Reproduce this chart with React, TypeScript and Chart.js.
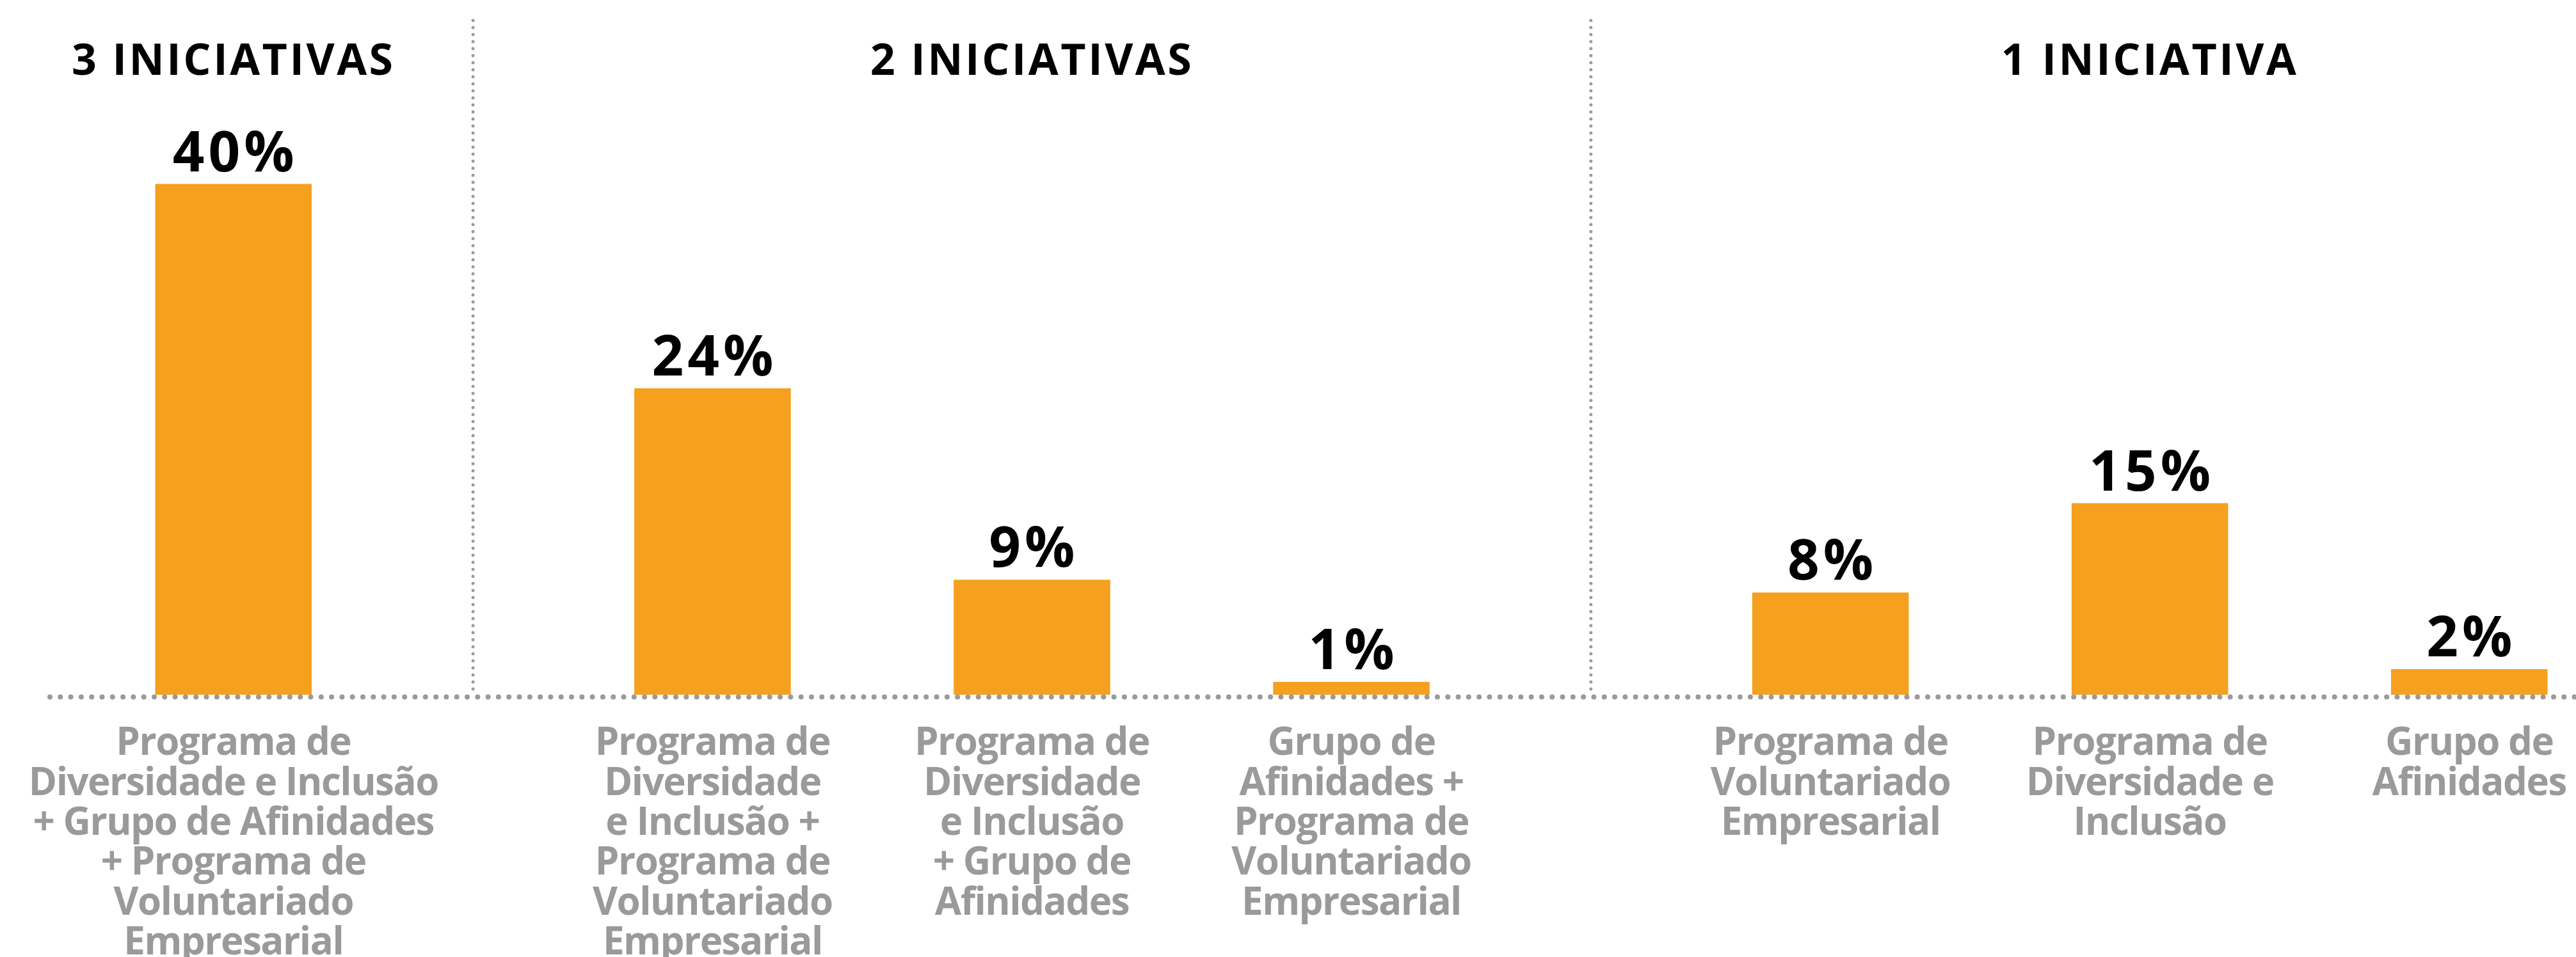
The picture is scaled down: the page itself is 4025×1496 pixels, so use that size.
import React, { useEffect, useRef } from "react";
import { Chart, registerables } from "chart.js";

Chart.register(...registerables);

const GROUP_TITLES = ["3 INICIATIVAS", "2 INICIATIVAS", "1 INICIATIVA"];
const BAR_GROUP = [0, 1, 1, 1, 2, 2, 2];
const BAR_VALUES = [40, 24, 9, 1, 8, 15, 2];
const BAR_LABELS: string[][] = [
  ["Programa de", "Diversidade e Inclusão", "+ Grupo de Afinidades", "+ Programa de", "Voluntariado", "Empresarial"],
  ["Programa de", "Diversidade", "e Inclusão +", "Programa de", "Voluntariado", "Empresarial"],
  ["Programa de", "Diversidade", "e Inclusão", "+ Grupo de", "Afinidades"],
  ["Grupo de", "Afinidades +", "Programa de", "Voluntariado", "Empresarial"],
  ["Programa de", "Voluntariado", "Empresarial"],
  ["Programa de", "Diversidade e", "Inclusão"],
  ["Grupo de", "Afinidades"],
];

const ORANGE = "#F5A01F";
const GRAY = "#9A9A9A";
const FONT = "'Open Sans', 'Noto Sans', sans-serif";

// Build category slots: one empty slot between bars of a group, two between groups
function buildSlots() {
  const labels: (string | string[])[] = [];
  const values: (number | null)[] = [];
  const barIndex: number[] = [];
  BAR_VALUES.forEach((v, i) => {
    if (i > 0) {
      const gap = BAR_GROUP[i] !== BAR_GROUP[i - 1] ? 2 : 1;
      for (let k = 0; k < gap; k++) {
        labels.push("");
        values.push(null);
      }
    }
    barIndex.push(labels.length);
    labels.push(BAR_LABELS[i]);
    values.push(v);
  });
  return { labels, values, barIndex };
}

export default function App() {
  const ref = useRef<HTMLCanvasElement | null>(null);

  useEffect(() => {
    document.body.style.margin = "0";
    document.body.style.overflow = "hidden";
    const { labels, values, barIndex } = buildSlots();

    const decor = {
      id: "decor",
      beforeDraw(chart: any) {
        (chart.ctx as any).letterSpacing = "-1.5px";
      },
      afterDatasetsDraw(chart: any) {
        const ctx = chart.ctx;
        const xs = chart.scales.x;
        const ys = chart.scales.y;
        const zeroY = ys.getPixelForValue(0);
        ctx.save();
        // baseline dotted
        ctx.strokeStyle = GRAY;
        ctx.lineCap = "round";
        ctx.lineWidth = 8;
        ctx.setLineDash([0, 16.3]);
        ctx.beginPath();
        ctx.moveTo(78, zeroY + 3.5);
        ctx.lineTo(chart.width + 10, zeroY + 3.5);
        ctx.stroke();
        // vertical separators between groups
        ctx.lineWidth = 5;
        ctx.setLineDash([0, 11]);
        for (let i = 1; i < BAR_VALUES.length; i++) {
          if (BAR_GROUP[i] !== BAR_GROUP[i - 1]) {
            const x = (xs.getPixelForValue(barIndex[i - 1]) + xs.getPixelForValue(barIndex[i])) / 2;
            ctx.beginPath();
            ctx.moveTo(x, 32);
            ctx.lineTo(x, zeroY + 2);
            ctx.stroke();
          }
        }
        ctx.setLineDash([]);
        // value labels
        const meta = chart.getDatasetMeta(0);
        ctx.fillStyle = "#000";
        ctx.font = `bold 87px ${FONT}`;
        ctx.letterSpacing = "6px";
        ctx.textAlign = "center";
        ctx.textBaseline = "alphabetic";
        meta.data.forEach((el: any, i: number) => {
          const v = values[i];
          if (v == null) return;
          ctx.fillText(`${v}%`, el.x + 3, el.y - 20);
        });
        // group titles
        ctx.font = `bold 68px ${FONT}`;
        ctx.letterSpacing = "3.5px";
        GROUP_TITLES.forEach((t, g) => {
          const idx = barIndex.filter((_, i) => BAR_GROUP[i] === g);
          const x = (xs.getPixelForValue(idx[0]) + xs.getPixelForValue(idx[idx.length - 1])) / 2;
          ctx.fillText(t, x, 117);
        });
        ctx.restore();
      },
    };

    const chart = new Chart(ref.current!, {
      type: "bar",
      data: {
        labels,
        datasets: [
          {
            data: values,
            backgroundColor: ORANGE,
            borderWidth: 0,
            barPercentage: 0.98,
            categoryPercentage: 1,
          },
        ],
      },
      options: {
        responsive: false,
        animation: false,
        events: [],
        layout: { padding: { left: 240, right: 42, top: 88, bottom: 0 } },
        plugins: { legend: { display: false }, tooltip: { enabled: false } },
        scales: {
          x: {
            grid: { display: false },
            border: { display: false },
            ticks: {
              autoSkip: false,
              maxRotation: 0,
              minRotation: 0,
              padding: 38,
              color: GRAY,
              font: { family: FONT, weight: "bold", size: 60, lineHeight: 1.04 },
            },
            afterFit(scale: any) {
              scale.height = 410;
              scale.paddingLeft = 0;
              scale.paddingRight = 0;
            },
          },
          y: {
            display: false,
            min: 0,
            max: 50,
          },
        },
      },
      plugins: [decor],
    });
    return () => chart.destroy();
  }, []);

  return <canvas ref={ref} width={4025} height={1496} style={{ display: "block" }} />;
}
